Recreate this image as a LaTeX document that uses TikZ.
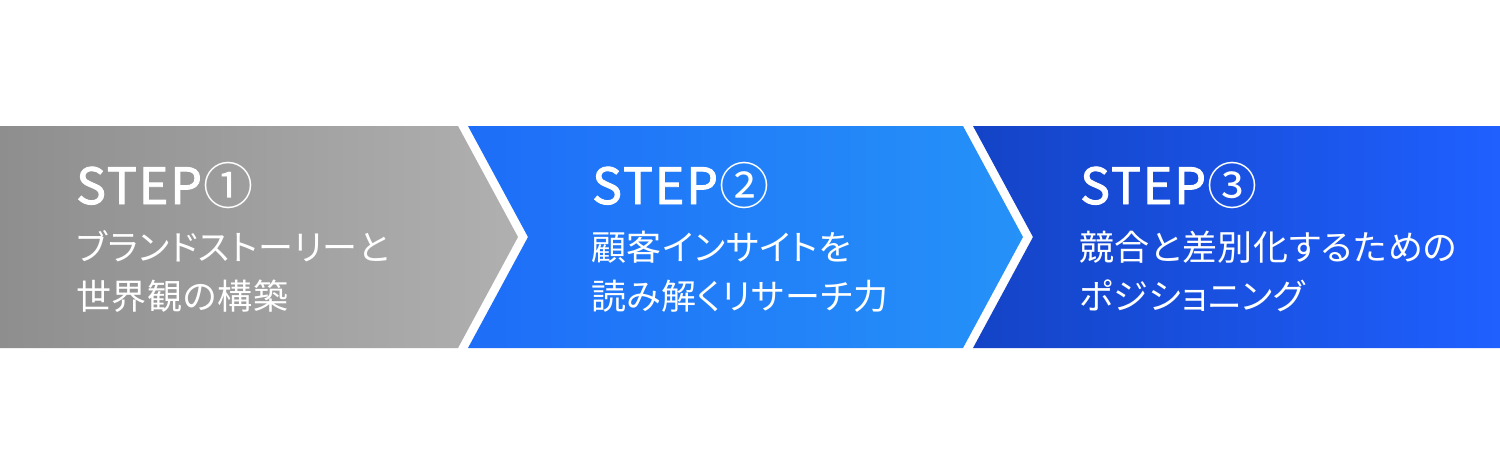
\documentclass[tikz,border=0pt]{standalone}
\usepackage{fontspec}
\newfontfamily\jpfont[RawFeature=+palt,LetterSpace=2]{Noto Sans CJK JP}
\newfontfamily\stepfont[LetterSpace=4,FakeBold=1.8]{Noto Sans CJK JP}
\newfontfamily\circfont{Noto Sans CJK JP}
\definecolor{grayL}{HTML}{8E8E8E}
\definecolor{grayR}{HTML}{B0B0B0}
\definecolor{blueAL}{HTML}{1E6DF8}
\definecolor{blueAR}{HTML}{2592F8}
\definecolor{blueBL}{HTML}{1443C6}
\definecolor{blueBR}{HTML}{1F60FF}
\tikzset{
  steptitle/.style={anchor=base west, inner sep=0pt, text=white, font=\stepfont\fontsize{50}{50}\selectfont},
  stepbody/.style={anchor=base west, inner sep=0pt, text=white, align=left, font=\jpfont\fontsize{35}{48}\selectfont},
}
\newcommand{\circnum}[1]{\hspace{2pt}{\circfont\fontsize{50}{50}\selectfont #1}}
\begin{document}
\begin{tikzpicture}[x=1pt,y=-1pt]
\useasboundingbox (0,0) rectangle (1500,475);
\fill[white] (0,0) rectangle (1500,475);
\path[left color=grayL, right color=grayR] (0,126) -- (458,126) -- (518,237) -- (458,348) -- (0,348) -- cycle;
\path[left color=blueAL, right color=blueAR] (468,126) -- (963,126) -- (1023,237) -- (963,348) -- (468,348) -- (528,237) -- cycle;
\path[left color=blueBL, right color=blueBR] (973,126) -- (1500,126) -- (1500,348) -- (973,348) -- (1033,237) -- cycle;
\node[steptitle] (t1) at (76,204) {STEP\circnum{①}};
\node[stepbody] (b1) at (76,260) {ブランドストーリーと};
\node[stepbody] (c1) at (76,309) {世界観の構築};
\node[steptitle] (t2) at (592,204) {STEP\circnum{②}};
\node[stepbody] (b2) at (591,260) {顧客インサイトを};
\node[stepbody] (c2) at (591,309) {読み解くリサーチ力};
\node[steptitle] (t3) at (1080,204) {STEP\circnum{③}};
\node[stepbody] (b3) at (1079,260) {競合と差別化するための};
\node[stepbody] (c3) at (1079,309) {ポジショニング};
\end{tikzpicture}
\end{document}
